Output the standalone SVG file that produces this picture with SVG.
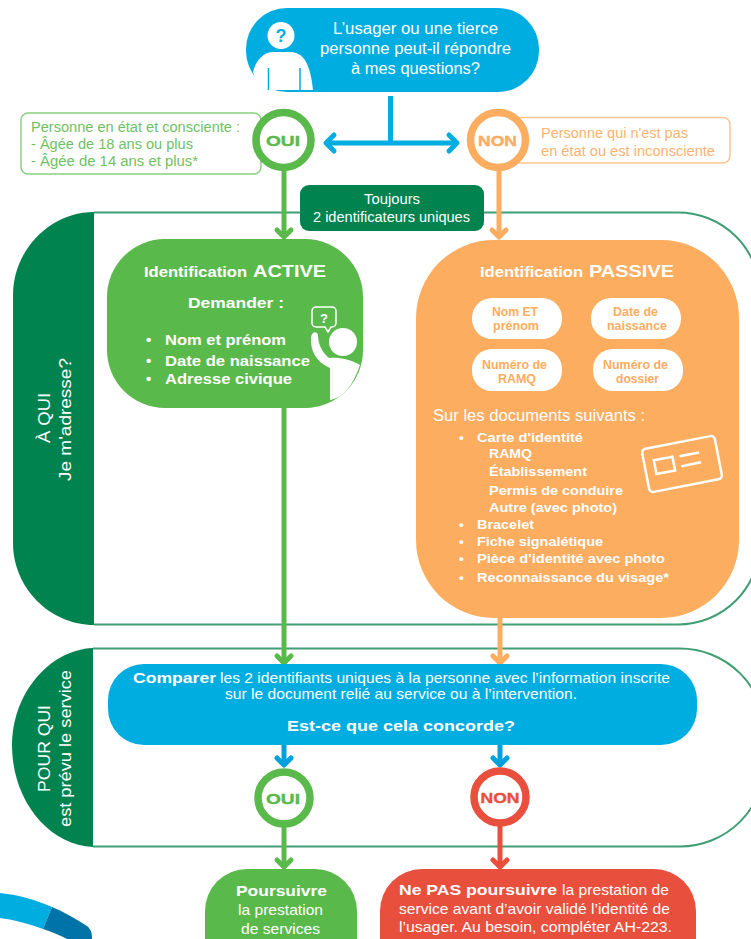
<svg xmlns="http://www.w3.org/2000/svg" width="751" height="939" viewBox="0 0 751 939">
<style>
text{font-family:"Liberation Sans",Arial,sans-serif;}
.w{fill:#fff}
.b{font-weight:700}
.line{fill:none;stroke-width:5}
.head{fill:none;stroke-width:5;stroke-linecap:round;stroke-linejoin:round}
.list{font-size:15px;font-weight:700;fill:#fff}
.plist{font-size:13.500px;font-weight:700;fill:#fff}
.pill{fill:#fff}
.pt{font-size:12.500px;font-weight:700;fill:#FCAD5F}
.ring{fill:#fff;stroke-width:7.500}
.rt{font-size:15px;font-weight:700;stroke-width:.4}
.outline{fill:none;stroke:#3F9E74;stroke-width:2}
</style>
<rect width="751" height="939" fill="#fff"/>
<g id="bands">
<g id="section-a-qui">
<path class="outline" d="M94 212.500H678A82 82 0 0 1 760 294.500V542.500A82 82 0 0 1 678 624.500H94"/>
<path d="M94 212C50 212 13 250 13 295V543C13 588 50 625 94 625Z" fill="#00834F"/>
<text class="w" font-size="17" textLength="50" lengthAdjust="spacingAndGlyphs" transform="translate(50 443) rotate(-90)">À QUI</text>
<text class="w" font-size="16" textLength="123" lengthAdjust="spacingAndGlyphs" transform="translate(71 481) rotate(-90)">Je m'adresse?</text>
</g>
<g id="section-pour-qui">
<path class="outline" d="M93 648.500H680A85 85 0 0 1 765 733.500V761.500A85 85 0 0 1 680 846.500H93"/>
<path d="M93 648C48 650 12 695 12 745C12 800 48 845 93 847Z" fill="#00834F"/>
<text class="w" font-size="17" textLength="87" lengthAdjust="spacingAndGlyphs" transform="translate(50 792) rotate(-90)">POUR QUI</text>
<text class="w" font-size="16" textLength="157" lengthAdjust="spacingAndGlyphs" transform="translate(71 827) rotate(-90)">est prévu le service</text>
</g>
</g>
<g id="connectors">
<path class="line" stroke="#00ADE0" d="M390.500 96V143"/>
<path class="line" stroke="#00ADE0" d="M328 143H455"/>
<path class="head" stroke="#00ADE0" d="M334 135L326 143L334 151M449 135L457 143L449 151"/>
<path class="line" stroke="#5AB94B" d="M284 168V236"/>
<path class="head" stroke="#5AB94B" d="M277 230L284 237L291 230"/>
<path class="line" stroke="#FCAD5F" d="M499 168V236"/>
<path class="head" stroke="#FCAD5F" d="M492 230L499 237L506 230"/>
<path class="line" stroke="#5AB94B" d="M284 405V662"/>
<path class="head" stroke="#5AB94B" d="M277 656L284 663L291 656"/>
<path class="line" stroke="#FCAD5F" d="M500 615V662"/>
<path class="head" stroke="#FCAD5F" d="M493 656L500 663L507 656"/>
<path class="line" stroke="#00A0DC" d="M284 745V764"/>
<path class="head" stroke="#00A0DC" d="M277 758L284 765L291 758"/>
<path class="line" stroke="#00A0DC" d="M500 745V764"/>
<path class="head" stroke="#00A0DC" d="M493 758L500 765L507 758"/>
<path class="line" stroke="#5AB94B" d="M284 825V866"/>
<path class="head" stroke="#5AB94B" d="M277 860L284 867L291 860"/>
<path class="line" stroke="#E94F3D" d="M500 825V866"/>
<path class="head" stroke="#E94F3D" d="M493 860L500 867L507 860"/>
</g>
<g id="node-question">
<rect x="246" y="8" width="293" height="84" rx="41" fill="#00ADE0"/>
<circle cx="281" cy="35.500" r="13.500" fill="#fff"/>
<text x="281" y="42" text-anchor="middle" class="b" font-size="18" fill="#00ADE0">?</text>
<path d="M253 72C256 60 263 53 272 52H291C303 53 310 62 313 90H266C260 86 255 79 253 72Z" fill="#fff"/>
<path d="M268.500 68V90M300 68V90" stroke="#00ADE0" stroke-width="1.500" fill="none"/>
<text class="w" font-size="16" x="333" y="34" textLength="165" lengthAdjust="spacingAndGlyphs">L’usager ou une tierce</text>
<text class="w" font-size="16" x="320" y="54" textLength="191" lengthAdjust="spacingAndGlyphs">personne peut-il répondre</text>
<text class="w" font-size="16" x="351" y="74" textLength="129" lengthAdjust="spacingAndGlyphs">à mes questions?</text>
</g>
<g id="note-conscient">
<rect x="21" y="113" width="240" height="61" rx="7" fill="#fff" stroke="#8CCF80" stroke-width="1.500"/>
<text font-size="14" fill="#6FC15F" x="31" y="132" textLength="209" lengthAdjust="spacingAndGlyphs">Personne en état et consciente :</text>
<text font-size="14" fill="#6FC15F" x="31" y="149" textLength="162" lengthAdjust="spacingAndGlyphs">- Âgée de 18 ans ou plus</text>
<text font-size="14" fill="#6FC15F" x="31" y="166" textLength="167" lengthAdjust="spacingAndGlyphs">- Âgée de 14 ans et plus*</text>
</g>
<g id="note-inconscient">
<rect x="505" y="117.500" width="225" height="45.500" rx="7" fill="#fff" stroke="#FCC48F" stroke-width="1.500"/>
<text font-size="14" fill="#FCB36F" x="541" y="138" textLength="147" lengthAdjust="spacingAndGlyphs">Personne qui n'est pas</text>
<text font-size="14" fill="#FCB36F" x="541" y="156" textLength="174" lengthAdjust="spacingAndGlyphs">en état ou est inconsciente</text>
</g>
<g id="node-oui-1">
<circle cx="283.500" cy="140" r="27.500" class="ring" stroke="#5AB94B"/>
<text class="rt" x="266" y="146" fill="#5AB94B" stroke="#5AB94B" textLength="34" lengthAdjust="spacingAndGlyphs">OUI</text>
</g>
<g id="node-non-1">
<circle cx="498" cy="140" r="27.500" class="ring" stroke="#FCAD5F"/>
<text class="rt" x="478" y="146" fill="#FCAD5F" stroke="#FCAD5F" textLength="39" lengthAdjust="spacingAndGlyphs">NON</text>
</g>
<g id="node-toujours">
<rect x="300" y="185" width="184" height="46" rx="9" fill="#00834F"/>
<text class="w" font-size="14" x="364" y="204" textLength="56" lengthAdjust="spacingAndGlyphs">Toujours</text>
<text class="w" font-size="14" x="313" y="222" textLength="157" lengthAdjust="spacingAndGlyphs">2 identificateurs uniques</text>
</g>
<g id="node-active">
<rect x="107" y="239" width="256" height="169" rx="58" fill="#5AB94B"/>
<text class="w b" x="144" y="277" font-size="15.500" textLength="103" lengthAdjust="spacingAndGlyphs">Identification</text>
<text class="w b" x="253" y="277" font-size="17" textLength="73" lengthAdjust="spacingAndGlyphs">ACTIVE</text>
<text class="w b" x="188" y="308" font-size="15" textLength="96" lengthAdjust="spacingAndGlyphs">Demander :</text>
<text class="list" x="146" y="345">•</text><text class="list" x="165" y="345" textLength="121" lengthAdjust="spacingAndGlyphs">Nom et prénom</text>
<text class="list" x="146" y="366">•</text><text class="list" x="165" y="366" textLength="145" lengthAdjust="spacingAndGlyphs">Date de naissance</text>
<text class="list" x="146" y="384">•</text><text class="list" x="165" y="384" textLength="127" lengthAdjust="spacingAndGlyphs">Adresse civique</text>
<circle cx="343" cy="342" r="14" fill="#fff"/>
<path d="M311 337C310 350 316 362 330 368L330 400C342 398 352 388 360 365C350 359 338 357 329 358C322 352 318 344 318 335C317 331 312 331 311 337Z" fill="#fff"/>
<path d="M316 307H332A4 4 0 0 1 336 311V323A4 4 0 0 1 332 327H331L328 332L325 327H316A4 4 0 0 1 312 323V311A4 4 0 0 1 316 307Z" fill="none" stroke="#fff" stroke-width="1.500"/>
<text class="w b" x="324" y="323" text-anchor="middle" font-size="13">?</text>
</g>
<g id="node-passive">
<rect x="416" y="240" width="323" height="378" rx="78" fill="#FCAD5F"/>
<text class="w b" x="480" y="277" font-size="15.500" textLength="103" lengthAdjust="spacingAndGlyphs">Identification</text>
<text class="w b" x="589" y="277" font-size="17" textLength="85" lengthAdjust="spacingAndGlyphs">PASSIVE</text>
<rect class="pill" x="472" y="298" width="90" height="41" rx="20"/>
<text class="pt" x="492" y="316" textLength="46" lengthAdjust="spacingAndGlyphs">Nom ET</text><text class="pt" x="493" y="330" textLength="46" lengthAdjust="spacingAndGlyphs">prénom</text>
<rect class="pill" x="591" y="298" width="90" height="41" rx="20"/>
<text class="pt" x="613" y="316" textLength="45" lengthAdjust="spacingAndGlyphs">Date de</text><text class="pt" x="607" y="330" textLength="60" lengthAdjust="spacingAndGlyphs">naissance</text>
<rect class="pill" x="472" y="349" width="90" height="42" rx="20"/>
<text class="pt" x="482" y="369" textLength="65" lengthAdjust="spacingAndGlyphs">Numéro de</text><text class="pt" x="498" y="383" textLength="38" lengthAdjust="spacingAndGlyphs">RAMQ</text>
<rect class="pill" x="593" y="349" width="90" height="42" rx="20"/>
<text class="pt" x="603" y="369" textLength="65" lengthAdjust="spacingAndGlyphs">Numéro de</text><text class="pt" x="616" y="383" textLength="43" lengthAdjust="spacingAndGlyphs">dossier</text>
<text class="w" font-size="16" x="433" y="421" textLength="212" lengthAdjust="spacingAndGlyphs">Sur les documents suivants :</text>
<text class="plist" x="459" y="442">•</text><text class="plist" x="477" y="442" textLength="106" lengthAdjust="spacingAndGlyphs">Carte d'identité</text>
<text class="plist" x="489" y="458" textLength="43" lengthAdjust="spacingAndGlyphs">RAMQ</text>
<text class="plist" x="489" y="476" textLength="98" lengthAdjust="spacingAndGlyphs">Établissement</text>
<text class="plist" x="489" y="495" textLength="134" lengthAdjust="spacingAndGlyphs">Permis de conduire</text>
<text class="plist" x="489" y="512" textLength="128" lengthAdjust="spacingAndGlyphs">Autre (avec photo)</text>
<text class="plist" x="459" y="529">•</text><text class="plist" x="477" y="529" textLength="57" lengthAdjust="spacingAndGlyphs">Bracelet</text>
<text class="plist" x="459" y="546">•</text><text class="plist" x="477" y="546" textLength="126" lengthAdjust="spacingAndGlyphs">Fiche signalétique</text>
<text class="plist" x="459" y="563">•</text><text class="plist" x="477" y="563" textLength="188" lengthAdjust="spacingAndGlyphs">Pièce d'identité avec photo</text>
<text class="plist" x="459" y="582">•</text><text class="plist" x="477" y="582" textLength="192" lengthAdjust="spacingAndGlyphs">Reconnaissance du visage*</text>
<g transform="rotate(-11 682 464)" fill="none" stroke="#fff" stroke-width="2.500">
<rect x="645" y="442" width="74" height="44" rx="4"/>
<rect x="655" y="455" width="19" height="14"/>
<path d="M681 456H701M681 466H701"/>
</g>
</g>
<g id="node-comparer">
<rect x="108" y="664" width="589" height="81" rx="36" fill="#00ADE0"/>
<text class="w b" font-size="15" x="133" y="683" textLength="83" lengthAdjust="spacingAndGlyphs">Comparer</text>
<text class="w" font-size="15" x="220" y="683" textLength="450" lengthAdjust="spacingAndGlyphs">les 2 identifiants uniques à la personne avec l’information inscrite</text>
<text class="w" font-size="15" x="225" y="699" textLength="352" lengthAdjust="spacingAndGlyphs">sur le document relié au service ou à l’intervention.</text>
<text class="w b" font-size="15" x="287" y="731" textLength="228" lengthAdjust="spacingAndGlyphs">Est-ce que cela concorde?</text>
</g>
<g id="node-oui-2">
<circle cx="284" cy="798" r="26" class="ring" stroke="#5AB94B"/>
<text class="rt" x="266" y="804" fill="#5AB94B" stroke="#5AB94B" textLength="34" lengthAdjust="spacingAndGlyphs">OUI</text>
</g>
<g id="node-non-2">
<circle cx="500" cy="797" r="26" class="ring" stroke="#E94F3D"/>
<text class="rt" x="480.500" y="803" fill="#E94F3D" stroke="#E94F3D" textLength="39" lengthAdjust="spacingAndGlyphs">NON</text>
</g>
<g id="node-poursuivre">
<rect x="205" y="869" width="152" height="120" rx="42" fill="#5AB94B"/>
<text class="w b" font-size="15" x="236" y="896" textLength="91" lengthAdjust="spacingAndGlyphs">Poursuivre</text>
<text class="w" font-size="15" x="238" y="915" textLength="85" lengthAdjust="spacingAndGlyphs">la prestation</text>
<text class="w" font-size="15" x="241" y="934" textLength="79" lengthAdjust="spacingAndGlyphs">de services</text>
</g>
<g id="node-ne-pas">
<rect x="380" y="869" width="316" height="120" rx="42" fill="#E94F3D"/>
<text class="w b" font-size="15" x="399" y="895" textLength="158" lengthAdjust="spacingAndGlyphs">Ne PAS poursuivre</text>
<text class="w" font-size="15" x="562" y="895" textLength="107" lengthAdjust="spacingAndGlyphs">la prestation de</text>
<text class="w" font-size="15" x="399" y="914" textLength="271" lengthAdjust="spacingAndGlyphs">service avant d’avoir validé l’identité de</text>
<text class="w" font-size="15" x="399" y="932" textLength="273" lengthAdjust="spacingAndGlyphs">l’usager. Au besoin, compléter AH-223.</text>
</g>
<path d="M0 893C20 895 36 900 52 907L43 929C30 924 15 920 0 918Z" fill="#00ADE0"/>
<path d="M52 907C64 912 76 919 87 926C92 930 92 935 92 939H67C60 935 52 932 43 929Z" fill="#0073A8"/>
</svg>
